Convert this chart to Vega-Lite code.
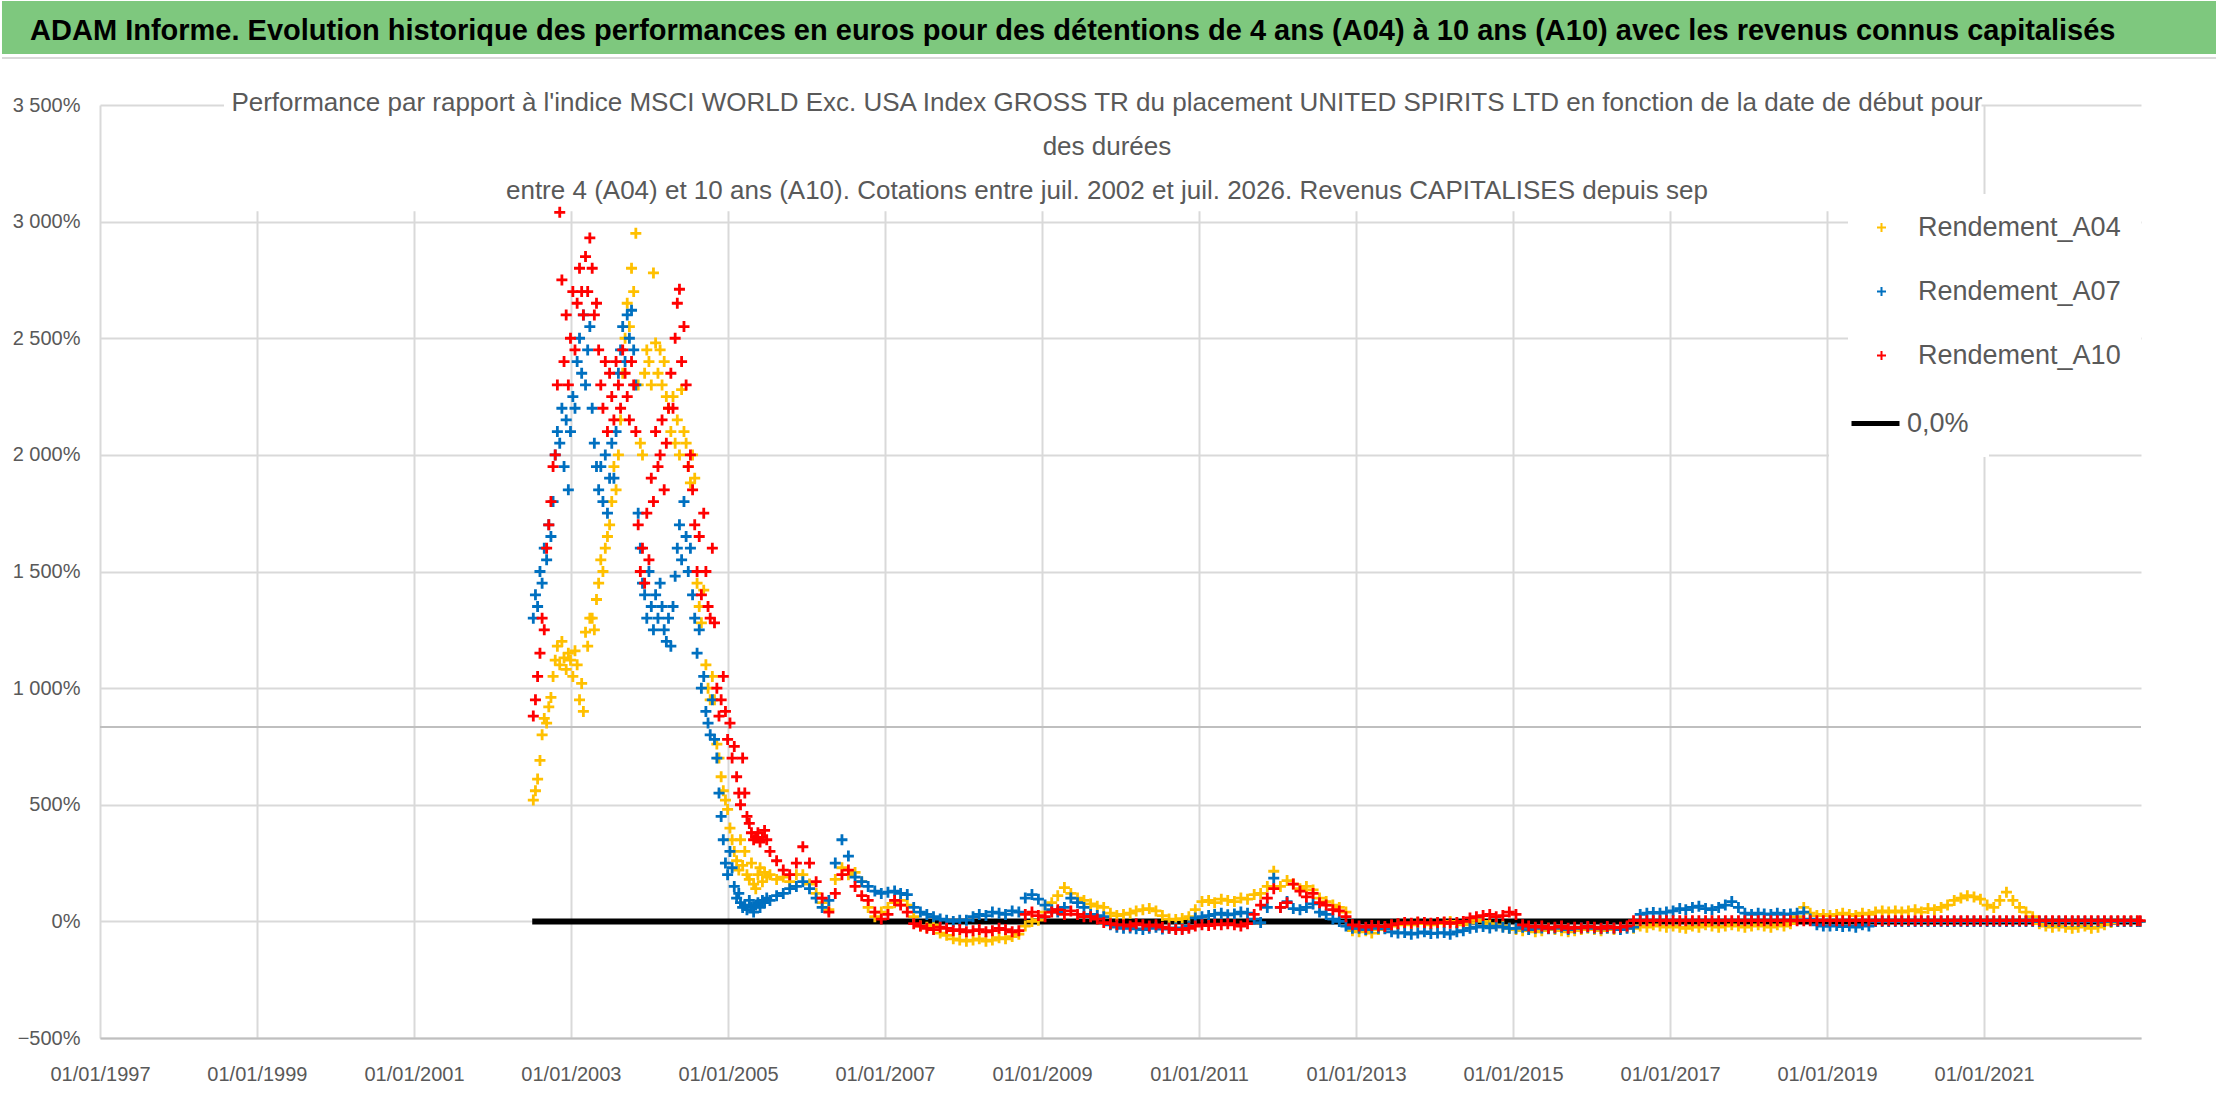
{
  "$schema": "https://vega.github.io/schema/vega-lite/v6.json",
  "background": "white",
  "padding": 0,
  "width": 2041,
  "height": 933,
  "config": {"view": {"stroke": null}, "font": "Liberation Sans"},
  "datasets": {
    "perf": [
      {"d":"2002-07-10","A04":520,"A07":1300,"A10":880},
      {"d":"2002-07-20","A04":560,"A07":1400,"A10":950},
      {"d":"2002-07-30","A04":610,"A07":1350,"A10":1050},
      {"d":"2002-08-10","A04":690,"A07":1500,"A10":1150},
      {"d":"2002-08-20","A04":800,"A07":1450,"A10":1300},
      {"d":"2002-08-30","A04":870,"A07":1600,"A10":1250},
      {"d":"2002-09-10","A04":850,"A07":1550,"A10":1600},
      {"d":"2002-09-20","A04":920,"A07":1700,"A10":1700},
      {"d":"2002-09-30","A04":960,"A07":1650,"A10":1800},
      {"d":"2002-10-10","A04":1050,"A07":1800,"A10":1950},
      {"d":"2002-10-20","A04":1120,"A07":2000,"A10":2000},
      {"d":"2002-10-30","A04":1180,"A07":2100,"A10":2300},
      {"d":"2002-11-10","A04":1100,"A07":2050,"A10":3040},
      {"d":"2002-11-20","A04":1200,"A07":2200,"A10":2750},
      {"d":"2002-11-30","A04":1130,"A07":1950,"A10":2400},
      {"d":"2002-12-10","A04":1080,"A07":2150,"A10":2600},
      {"d":"2002-12-20","A04":1150,"A07":1850,"A10":2300},
      {"d":"2002-12-30","A04":1120,"A07":2100,"A10":2500},
      {"d":"2003-01-10","A04":1050,"A07":2250,"A10":2700},
      {"d":"2003-01-20","A04":1160,"A07":2200,"A10":2450},
      {"d":"2003-01-30","A04":1100,"A07":2400,"A10":2650},
      {"d":"2003-02-10","A04":950,"A07":2500,"A10":2800},
      {"d":"2003-02-20","A04":1020,"A07":2350,"A10":2700},
      {"d":"2003-02-28","A04":900,"A07":2600,"A10":2600},
      {"d":"2003-03-10","A04":1240,"A07":2300,"A10":2850},
      {"d":"2003-03-20","A04":1180,"A07":2450,"A10":2700},
      {"d":"2003-03-30","A04":1300,"A07":2550,"A10":2930},
      {"d":"2003-04-10","A04":1300,"A07":2200,"A10":2800},
      {"d":"2003-04-20","A04":1250,"A07":2050,"A10":2600},
      {"d":"2003-04-30","A04":1380,"A07":1950,"A10":2650},
      {"d":"2003-05-10","A04":1450,"A07":1850,"A10":2450},
      {"d":"2003-05-20","A04":1550,"A07":1950,"A10":2300},
      {"d":"2003-05-30","A04":1500,"A07":1800,"A10":2200},
      {"d":"2003-06-10","A04":1600,"A07":2000,"A10":2400},
      {"d":"2003-06-20","A04":1650,"A07":1750,"A10":2100},
      {"d":"2003-06-30","A04":1700,"A07":1900,"A10":2350},
      {"d":"2003-07-10","A04":1800,"A07":2050,"A10":2250},
      {"d":"2003-07-20","A04":1950,"A07":1900,"A10":2150},
      {"d":"2003-07-30","A04":1850,"A07":2100,"A10":2400},
      {"d":"2003-08-10","A04":2000,"A07":2350,"A10":2300},
      {"d":"2003-08-20","A04":2150,"A07":2450,"A10":2200},
      {"d":"2003-08-30","A04":2350,"A07":2550,"A10":2450},
      {"d":"2003-09-10","A04":2500,"A07":2400,"A10":2350},
      {"d":"2003-09-20","A04":2650,"A07":2600,"A10":2250},
      {"d":"2003-09-30","A04":2550,"A07":2500,"A10":2150},
      {"d":"2003-10-10","A04":2800,"A07":2620,"A10":2400},
      {"d":"2003-10-20","A04":2700,"A07":2450,"A10":2300},
      {"d":"2003-10-30","A04":2950,"A07":2300,"A10":2100},
      {"d":"2003-11-10","A04":2300,"A07":1750,"A10":1700},
      {"d":"2003-11-20","A04":2050,"A07":1600,"A10":1500},
      {"d":"2003-11-30","A04":2000,"A07":1450,"A10":1600},
      {"d":"2003-12-10","A04":2350,"A07":1400,"A10":1450},
      {"d":"2003-12-20","A04":2450,"A07":1300,"A10":1750},
      {"d":"2003-12-30","A04":2400,"A07":1500,"A10":1550},
      {"d":"2004-01-10","A04":2300,"A07":1350,"A10":1900},
      {"d":"2004-01-20","A04":2780,"A07":1250,"A10":1800},
      {"d":"2004-01-30","A04":2480,"A07":1400,"A10":2100},
      {"d":"2004-02-10","A04":2350,"A07":1300,"A10":1950},
      {"d":"2004-02-20","A04":2450,"A07":1450,"A10":2000},
      {"d":"2004-02-29","A04":2300,"A07":1350,"A10":2150},
      {"d":"2004-03-10","A04":2400,"A07":1250,"A10":1850},
      {"d":"2004-03-20","A04":2250,"A07":1200,"A10":2050},
      {"d":"2004-03-30","A04":2200,"A07":1300,"A10":2200},
      {"d":"2004-04-10","A04":2100,"A07":1180,"A10":2350},
      {"d":"2004-04-20","A04":2250,"A07":1350,"A10":2200},
      {"d":"2004-04-30","A04":2050,"A07":1480,"A10":2500},
      {"d":"2004-05-10","A04":2150,"A07":1600,"A10":2650},
      {"d":"2004-05-20","A04":2000,"A07":1700,"A10":2710},
      {"d":"2004-05-30","A04":2280,"A07":1550,"A10":2400},
      {"d":"2004-06-10","A04":2100,"A07":1800,"A10":2550},
      {"d":"2004-06-20","A04":2050,"A07":1650,"A10":2300},
      {"d":"2004-06-30","A04":1950,"A07":1500,"A10":1950},
      {"d":"2004-07-10","A04":1880,"A07":1600,"A10":2000},
      {"d":"2004-07-20","A04":2000,"A07":1400,"A10":1850},
      {"d":"2004-07-30","A04":1900,"A07":1300,"A10":1700},
      {"d":"2004-08-10","A04":1450,"A07":1150,"A10":1500},
      {"d":"2004-08-20","A04":1350,"A07":1250,"A10":1650},
      {"d":"2004-08-30","A04":1280,"A07":1000,"A10":1400},
      {"d":"2004-09-10","A04":1420,"A07":1050,"A10":1750},
      {"d":"2004-09-20","A04":1100,"A07":900,"A10":1500},
      {"d":"2004-09-30","A04":1000,"A07":850,"A10":1350},
      {"d":"2004-10-10","A04":950,"A07":800,"A10":1300},
      {"d":"2004-10-20","A04":1050,"A07":950,"A10":1600},
      {"d":"2004-10-30","A04":950,"A07":780,"A10":1280},
      {"d":"2004-11-10","A04":760,"A07":700,"A10":1000},
      {"d":"2004-11-20","A04":700,"A07":550,"A10":880},
      {"d":"2004-11-30","A04":620,"A07":450,"A10":950},
      {"d":"2004-12-10","A04":560,"A07":350,"A10":1050},
      {"d":"2004-12-20","A04":520,"A07":250,"A10":900},
      {"d":"2004-12-30","A04":480,"A07":200,"A10":780},
      {"d":"2005-01-10","A04":400,"A07":300,"A10":850},
      {"d":"2005-01-20","A04":350,"A07":230,"A10":700},
      {"d":"2005-01-30","A04":300,"A07":150,"A10":750},
      {"d":"2005-02-10","A04":260,"A07":100,"A10":620},
      {"d":"2005-02-20","A04":220,"A07":120,"A10":550},
      {"d":"2005-02-28","A04":350,"A07":80,"A10":500},
      {"d":"2005-03-10","A04":240,"A07":60,"A10":700},
      {"d":"2005-03-20","A04":300,"A07":70,"A10":550},
      {"d":"2005-03-30","A04":200,"A07":50,"A10":450},
      {"d":"2005-04-10","A04":180,"A07":90,"A10":420},
      {"d":"2005-04-20","A04":250,"A07":60,"A10":380},
      {"d":"2005-04-30","A04":160,"A07":40,"A10":350},
      {"d":"2005-05-10","A04":140,"A07":70,"A10":360},
      {"d":"2005-05-20","A04":200,"A07":80,"A10":380},
      {"d":"2005-05-30","A04":230,"A07":60,"A10":340},
      {"d":"2005-06-10","A04":170,"A07":90,"A10":360},
      {"d":"2005-06-20","A04":210,"A07":80,"A10":390},
      {"d":"2005-06-30","A04":190,"A07":100,"A10":350},
      {"d":"2005-07-15","A04":200,"A07":90,"A10":300},
      {"d":"2005-08-15","A04":180,"A07":110,"A10":260},
      {"d":"2005-09-15","A04":190,"A07":120,"A10":220},
      {"d":"2005-10-15","A04":170,"A07":140,"A10":200},
      {"d":"2005-11-15","A04":200,"A07":150,"A10":250},
      {"d":"2005-12-15","A04":200,"A07":170,"A10":320},
      {"d":"2006-01-15","A04":160,"A07":140,"A10":250},
      {"d":"2006-02-15","A04":120,"A07":100,"A10":170},
      {"d":"2006-03-15","A04":80,"A07":60,"A10":100},
      {"d":"2006-04-15","A04":50,"A07":90,"A10":40},
      {"d":"2006-05-15","A04":180,"A07":250,"A10":120},
      {"d":"2006-06-15","A04":230,"A07":350,"A10":200},
      {"d":"2006-07-15","A04":200,"A07":280,"A10":220},
      {"d":"2006-08-15","A04":210,"A07":190,"A10":150},
      {"d":"2006-09-15","A04":170,"A07":170,"A10":110},
      {"d":"2006-10-15","A04":60,"A07":150,"A10":90},
      {"d":"2006-11-15","A04":20,"A07":130,"A10":40},
      {"d":"2006-12-15","A04":40,"A07":120,"A10":10},
      {"d":"2007-01-15","A04":60,"A07":125,"A10":30},
      {"d":"2007-02-15","A04":80,"A07":130,"A10":90},
      {"d":"2007-03-15","A04":90,"A07":120,"A10":70},
      {"d":"2007-04-15","A04":70,"A07":115,"A10":40},
      {"d":"2007-05-15","A04":20,"A07":60,"A10":-10},
      {"d":"2007-06-15","A04":-20,"A07":40,"A10":-20},
      {"d":"2007-07-15","A04":-25,"A07":30,"A10":-30},
      {"d":"2007-08-15","A04":-15,"A07":20,"A10":-35},
      {"d":"2007-09-15","A04":-50,"A07":10,"A10":-25},
      {"d":"2007-10-15","A04":-60,"A07":5,"A10":-30},
      {"d":"2007-11-15","A04":-75,"A07":0,"A10":-40},
      {"d":"2007-12-15","A04":-80,"A07":5,"A10":-35},
      {"d":"2008-01-15","A04":-85,"A07":5,"A10":-45},
      {"d":"2008-02-15","A04":-80,"A07":20,"A10":-40},
      {"d":"2008-03-15","A04":-75,"A07":30,"A10":-35},
      {"d":"2008-04-15","A04":-85,"A07":25,"A10":-45},
      {"d":"2008-05-15","A04":-80,"A07":40,"A10":-40},
      {"d":"2008-06-15","A04":-70,"A07":35,"A10":-30},
      {"d":"2008-07-15","A04":-75,"A07":30,"A10":-35},
      {"d":"2008-08-15","A04":-65,"A07":45,"A10":-45},
      {"d":"2008-09-15","A04":-55,"A07":40,"A10":-40},
      {"d":"2008-10-15","A04":-20,"A07":100,"A10":30},
      {"d":"2008-11-15","A04":0,"A07":115,"A10":40},
      {"d":"2008-12-15","A04":5,"A07":95,"A10":25},
      {"d":"2009-01-15","A04":40,"A07":70,"A10":20},
      {"d":"2009-02-15","A04":80,"A07":50,"A10":40},
      {"d":"2009-03-15","A04":110,"A07":40,"A10":50},
      {"d":"2009-04-15","A04":145,"A07":60,"A10":30},
      {"d":"2009-05-15","A04":120,"A07":100,"A10":45},
      {"d":"2009-06-15","A04":100,"A07":80,"A10":30},
      {"d":"2009-07-15","A04":90,"A07":60,"A10":20},
      {"d":"2009-08-15","A04":75,"A07":30,"A10":20},
      {"d":"2009-09-15","A04":65,"A07":25,"A10":10},
      {"d":"2009-10-15","A04":60,"A07":20,"A10":-5},
      {"d":"2009-11-15","A04":35,"A07":-15,"A10":-10},
      {"d":"2009-12-15","A04":25,"A07":-25,"A10":-15},
      {"d":"2010-01-15","A04":30,"A07":-30,"A10":-15},
      {"d":"2010-02-15","A04":35,"A07":-28,"A10":-20},
      {"d":"2010-03-15","A04":45,"A07":-32,"A10":-10},
      {"d":"2010-04-15","A04":50,"A07":-35,"A10":-15},
      {"d":"2010-05-15","A04":55,"A07":-30,"A10":-20},
      {"d":"2010-06-15","A04":45,"A07":-25,"A10":-15},
      {"d":"2010-07-15","A04":25,"A07":-33,"A10":-25},
      {"d":"2010-08-15","A04":10,"A07":-30,"A10":-30},
      {"d":"2010-09-15","A04":8,"A07":-28,"A10":-35},
      {"d":"2010-10-15","A04":12,"A07":-32,"A10":-35},
      {"d":"2010-11-15","A04":20,"A07":-20,"A10":-30},
      {"d":"2010-12-15","A04":50,"A07":15,"A10":-20},
      {"d":"2011-01-15","A04":85,"A07":20,"A10":-15},
      {"d":"2011-02-15","A04":90,"A07":25,"A10":-18},
      {"d":"2011-03-15","A04":80,"A07":30,"A10":-12},
      {"d":"2011-04-15","A04":95,"A07":35,"A10":-15},
      {"d":"2011-05-15","A04":90,"A07":28,"A10":-10},
      {"d":"2011-06-15","A04":85,"A07":32,"A10":-15},
      {"d":"2011-07-15","A04":100,"A07":40,"A10":-20},
      {"d":"2011-08-15","A04":95,"A07":35,"A10":-10},
      {"d":"2011-09-15","A04":115,"A07":10,"A10":30},
      {"d":"2011-10-15","A04":120,"A07":-5,"A10":70},
      {"d":"2011-11-15","A04":150,"A07":60,"A10":100},
      {"d":"2011-12-15","A04":215,"A07":185,"A10":140},
      {"d":"2012-01-15","A04":150,"A07":60,"A10":60},
      {"d":"2012-02-15","A04":175,"A07":85,"A10":80},
      {"d":"2012-03-15","A04":160,"A07":55,"A10":160},
      {"d":"2012-04-15","A04":140,"A07":50,"A10":130},
      {"d":"2012-05-15","A04":150,"A07":60,"A10":105},
      {"d":"2012-06-15","A04":135,"A07":75,"A10":120},
      {"d":"2012-07-15","A04":100,"A07":40,"A10":80},
      {"d":"2012-08-15","A04":85,"A07":30,"A10":70},
      {"d":"2012-09-15","A04":70,"A07":10,"A10":50},
      {"d":"2012-10-15","A04":60,"A07":0,"A10":45},
      {"d":"2012-11-15","A04":40,"A07":-20,"A10":20},
      {"d":"2012-12-15","A04":-40,"A07":-30,"A10":-15},
      {"d":"2013-01-15","A04":-45,"A07":-30,"A10":-20},
      {"d":"2013-02-15","A04":-40,"A07":-35,"A10":-25},
      {"d":"2013-03-15","A04":-50,"A07":-28,"A10":-18},
      {"d":"2013-04-15","A04":-35,"A07":-30,"A10":-20},
      {"d":"2013-05-15","A04":-30,"A07":-32,"A10":-22},
      {"d":"2013-06-15","A04":-20,"A07":-45,"A10":-15},
      {"d":"2013-07-15","A04":-15,"A07":-50,"A10":-10},
      {"d":"2013-08-15","A04":-10,"A07":-48,"A10":-5},
      {"d":"2013-09-15","A04":-15,"A07":-55,"A10":-8},
      {"d":"2013-10-15","A04":-5,"A07":-50,"A10":-3},
      {"d":"2013-11-15","A04":-10,"A07":-45,"A10":-5},
      {"d":"2013-12-15","A04":-15,"A07":-52,"A10":-8},
      {"d":"2014-01-15","A04":-10,"A07":-50,"A10":-5},
      {"d":"2014-02-15","A04":-5,"A07":-48,"A10":-3},
      {"d":"2014-03-15","A04":0,"A07":-55,"A10":-8},
      {"d":"2014-04-15","A04":-10,"A07":-45,"A10":-5},
      {"d":"2014-05-15","A04":-15,"A07":-40,"A10":0},
      {"d":"2014-06-15","A04":-5,"A07":-30,"A10":15},
      {"d":"2014-07-15","A04":5,"A07":-25,"A10":20},
      {"d":"2014-08-15","A04":0,"A07":-22,"A10":25},
      {"d":"2014-09-15","A04":-10,"A07":-28,"A10":30},
      {"d":"2014-10-15","A04":-15,"A07":-20,"A10":20},
      {"d":"2014-11-15","A04":-20,"A07":-25,"A10":25},
      {"d":"2014-12-15","A04":-30,"A07":-30,"A10":40},
      {"d":"2015-01-15","A04":-35,"A07":-30,"A10":30},
      {"d":"2015-02-15","A04":-40,"A07":-25,"A10":-15},
      {"d":"2015-03-15","A04":-35,"A07":-35,"A10":-20},
      {"d":"2015-04-15","A04":-45,"A07":-30,"A10":-25},
      {"d":"2015-05-15","A04":-40,"A07":-28,"A10":-20},
      {"d":"2015-06-15","A04":-30,"A07":-32,"A10":-30},
      {"d":"2015-07-15","A04":-35,"A07":-30,"A10":-25},
      {"d":"2015-08-15","A04":-40,"A07":-25,"A10":-20},
      {"d":"2015-09-15","A04":-45,"A07":-35,"A10":-30},
      {"d":"2015-10-15","A04":-40,"A07":-30,"A10":-25},
      {"d":"2015-11-15","A04":-35,"A07":-28,"A10":-28},
      {"d":"2015-12-15","A04":-30,"A07":-25,"A10":-22},
      {"d":"2016-01-15","A04":-35,"A07":-30,"A10":-25},
      {"d":"2016-02-15","A04":-40,"A07":-32,"A10":-30},
      {"d":"2016-03-15","A04":-30,"A07":-28,"A10":-22},
      {"d":"2016-04-15","A04":-35,"A07":-30,"A10":-28},
      {"d":"2016-05-15","A04":-30,"A07":-35,"A10":-25},
      {"d":"2016-06-15","A04":-25,"A07":-30,"A10":-20},
      {"d":"2016-07-15","A04":-30,"A07":-25,"A10":3},
      {"d":"2016-08-15","A04":-20,"A07":30,"A10":3},
      {"d":"2016-09-15","A04":-25,"A07":35,"A10":3},
      {"d":"2016-10-15","A04":-15,"A07":38,"A10":3},
      {"d":"2016-11-15","A04":-20,"A07":35,"A10":3},
      {"d":"2016-12-15","A04":-25,"A07":40,"A10":3},
      {"d":"2017-01-15","A04":-20,"A07":45,"A10":3},
      {"d":"2017-02-15","A04":-25,"A07":55,"A10":3},
      {"d":"2017-03-15","A04":-30,"A07":50,"A10":3},
      {"d":"2017-04-15","A04":-20,"A07":60,"A10":3},
      {"d":"2017-05-15","A04":-25,"A07":65,"A10":3},
      {"d":"2017-06-15","A04":-15,"A07":55,"A10":3},
      {"d":"2017-07-15","A04":-20,"A07":50,"A10":3},
      {"d":"2017-08-15","A04":-25,"A07":60,"A10":3},
      {"d":"2017-09-15","A04":-20,"A07":70,"A10":3},
      {"d":"2017-10-15","A04":-15,"A07":85,"A10":3},
      {"d":"2017-11-15","A04":-20,"A07":60,"A10":3},
      {"d":"2017-12-15","A04":-25,"A07":35,"A10":3},
      {"d":"2018-01-15","A04":-20,"A07":30,"A10":3},
      {"d":"2018-02-15","A04":-15,"A07":35,"A10":3},
      {"d":"2018-03-15","A04":-20,"A07":32,"A10":3},
      {"d":"2018-04-15","A04":-25,"A07":30,"A10":3},
      {"d":"2018-05-15","A04":-15,"A07":35,"A10":3},
      {"d":"2018-06-15","A04":-20,"A07":30,"A10":3},
      {"d":"2018-07-15","A04":-10,"A07":32,"A10":3},
      {"d":"2018-08-15","A04":20,"A07":35,"A10":3},
      {"d":"2018-09-15","A04":60,"A07":40,"A10":3},
      {"d":"2018-10-15","A04":35,"A07":10,"A10":3},
      {"d":"2018-11-15","A04":25,"A07":-15,"A10":3},
      {"d":"2018-12-15","A04":30,"A07":-20,"A10":3},
      {"d":"2019-01-15","A04":25,"A07":-20,"A10":3},
      {"d":"2019-02-15","A04":30,"A07":-18,"A10":3},
      {"d":"2019-03-15","A04":35,"A07":-22,"A10":3},
      {"d":"2019-04-15","A04":30,"A07":-20,"A10":3},
      {"d":"2019-05-15","A04":25,"A07":-25,"A10":3},
      {"d":"2019-06-15","A04":35,"A07":-15,"A10":3},
      {"d":"2019-07-15","A04":30,"A07":-20,"A10":3},
      {"d":"2019-08-15","A04":40,"A07":0,"A10":3},
      {"d":"2019-09-15","A04":45,"A07":0,"A10":3},
      {"d":"2019-10-15","A04":40,"A07":0,"A10":3},
      {"d":"2019-11-15","A04":45,"A07":0,"A10":3},
      {"d":"2019-12-15","A04":40,"A07":0,"A10":3},
      {"d":"2020-01-15","A04":45,"A07":0,"A10":3},
      {"d":"2020-02-15","A04":50,"A07":0,"A10":3},
      {"d":"2020-03-15","A04":40,"A07":0,"A10":3},
      {"d":"2020-04-15","A04":55,"A07":0,"A10":3},
      {"d":"2020-05-15","A04":50,"A07":0,"A10":3},
      {"d":"2020-06-15","A04":60,"A07":0,"A10":3},
      {"d":"2020-07-15","A04":70,"A07":0,"A10":3},
      {"d":"2020-08-15","A04":90,"A07":0,"A10":3},
      {"d":"2020-09-15","A04":100,"A07":0,"A10":3},
      {"d":"2020-10-15","A04":110,"A07":0,"A10":3},
      {"d":"2020-11-15","A04":105,"A07":0,"A10":3},
      {"d":"2020-12-15","A04":95,"A07":0,"A10":3},
      {"d":"2021-01-15","A04":70,"A07":0,"A10":3},
      {"d":"2021-02-15","A04":60,"A07":0,"A10":3},
      {"d":"2021-03-15","A04":90,"A07":0,"A10":3},
      {"d":"2021-04-15","A04":125,"A07":0,"A10":3},
      {"d":"2021-05-15","A04":90,"A07":0,"A10":3},
      {"d":"2021-06-15","A04":60,"A07":0,"A10":3},
      {"d":"2021-07-15","A04":40,"A07":0,"A10":3},
      {"d":"2021-08-15","A04":20,"A07":0,"A10":3},
      {"d":"2021-09-15","A04":-10,"A07":0,"A10":3},
      {"d":"2021-10-15","A04":-20,"A07":0,"A10":3},
      {"d":"2021-11-15","A04":-25,"A07":0,"A10":3},
      {"d":"2021-12-15","A04":-20,"A07":0,"A10":3},
      {"d":"2022-01-15","A04":-25,"A07":0,"A10":3},
      {"d":"2022-02-15","A04":-30,"A07":0,"A10":3},
      {"d":"2022-03-15","A04":-25,"A07":0,"A10":3},
      {"d":"2022-04-15","A04":-20,"A07":0,"A10":3},
      {"d":"2022-05-15","A04":-30,"A07":0,"A10":3},
      {"d":"2022-06-15","A04":-25,"A07":0,"A10":3},
      {"d":"2022-07-15","A04":-15,"A07":0,"A10":3},
      {"d":"2022-08-15","A04":-5,"A07":0,"A10":3},
      {"d":"2022-09-15","A04":0,"A07":0,"A10":3},
      {"d":"2022-10-15","A04":0,"A07":0,"A10":3},
      {"d":"2022-11-15","A04":0,"A07":0,"A10":3},
      {"d":"2022-12-15","A04":0,"A07":0,"A10":3},
      {"d":"2022-12-28","A04":0,"A07":0,"A10":3}
    ]
  },
  "data": {"name": "perf"},
  "layer": [
    {
      "data": {"values": [{}]},
      "mark": {"type": "rect", "color": "#7ec87e"},
      "encoding": {
        "x": {"datum": {"year": 1995, "month": 10, "date": 3}, "type": "temporal"},
        "x2": {"datum": {"year": 2023, "month": 12, "date": 25}},
        "y": {"datum": 3946, "type": "quantitative"},
        "y2": {"datum": 3719}
      }
    },
    {
      "data": {"values": [{}]},
      "mark": {"type": "rule", "color": "#d9d9d9", "strokeWidth": 2},
      "encoding": {
        "x": {"datum": {"year": 1995, "month": 10, "date": 3}, "type": "temporal"},
        "x2": {"datum": {"year": 2023, "month": 12, "date": 25}},
        "y": {"datum": 3701, "type": "quantitative"}
      }
    },
    {
      "data": {"values": [{}]},
      "mark": {"type": "text", "font": "Liberation Sans", "fontWeight": "bold", "fontSize": 29, "color": "#000000", "align": "center", "baseline": "middle",
        "text": "ADAM Informe. Evolution historique des performances en euros pour des détentions de 4 ans (A04) à 10 ans (A10) avec les revenus connus capitalisés"},
      "encoding": {
        "x": {"datum": {"year": 2009, "month": 5, "date": 24}, "type": "temporal"},
        "y": {"datum": 3817, "type": "quantitative"}
      }
    },
    {
      "data": {"values": [{}]},
      "mark": {"type": "rect", "color": "#ffffff"},
      "encoding": {
        "x": {"datum": {"year": 1998, "month": 8, "date": 1}, "type": "temporal"},
        "x2": {"datum": {"year": 2020, "month": 12, "date": 20}},
        "y": {"datum": 3045, "type": "quantitative"},
        "y2": {"datum": 3530}
      }
    },
    {
      "data": {"values": [{}]},
      "mark": {"type": "text", "font": "Liberation Sans", "fontSize": 26, "color": "#595959", "lineHeight": 44, "align": "center", "baseline": "middle",
        "text": ["Performance par rapport à l'indice MSCI WORLD Exc. USA Index GROSS TR  du placement UNITED SPIRITS LTD en fonction de la date de début pour", "des durées", "entre 4 (A04) et 10 ans (A10). Cotations entre juil. 2002 et juil. 2026. Revenus CAPITALISES depuis sep"]},
      "encoding": {
        "x": {"datum": {"year": 2009, "month": 10, "date": 30}, "type": "temporal"},
        "y": {"datum": 3509, "type": "quantitative"}
      }
    },
    {
      "data": {"values": [{}]},
      "mark": {"type": "rule", "color": "#bfbfbf", "strokeWidth": 2},
      "encoding": {"y": {"datum": 833, "type": "quantitative"}}
    },
    {
      "data": {"values": [{}]},
      "mark": {"type": "rule", "strokeWidth": 6, "color": "#000000"},
      "encoding": {
        "x": {"datum": {"year": 2002, "month": 7, "date": 5}, "type": "temporal"},
        "x2": {"datum": {"year": 2022, "month": 12, "date": 31}},
        "y": {"datum": 0, "type": "quantitative"},
        "strokeDash": {
          "datum": "0,0%",
          "scale": {"domain": ["0,0%"], "range": [[1, 0]]},
          "legend": {
            "title": null,
            "orient": "none",
            "legendX": 1729,
            "legendY": 272,
            "fillColor": "#ffffff",
            "padding": 20,
            "labelFont": "Liberation Sans",
            "labelFontSize": 27,
            "labelColor": "#595959",
            "labelOffset": 5,
            "symbolType": "stroke",
            "symbolSize": 2304,
            "symbolStrokeColor": "#000000",
            "symbolStrokeWidth": 5
          }
        }
      }
    },
    {
      "transform": [{"fold": ["A04", "A07", "A10"], "as": ["serie", "v"]}],
      "mark": {"type": "point", "shape": "M-1,0H1M0,-1V1", "filled": false, "size": 121, "strokeWidth": 2.8, "opacity": 1},
      "encoding": {
        "x": {
          "field": "d", "type": "temporal",
          "scale": {"domain": [{"year": 1997, "month": 1, "date": 1}, {"year": 2023, "month": 1, "date": 1}]},
          "axis": {
            "title": null,
            "values": [
              {"year": 1997, "month": 1, "date": 1}, {"year": 1999, "month": 1, "date": 1}, {"year": 2001, "month": 1, "date": 1},
              {"year": 2003, "month": 1, "date": 1}, {"year": 2005, "month": 1, "date": 1}, {"year": 2007, "month": 1, "date": 1},
              {"year": 2009, "month": 1, "date": 1}, {"year": 2011, "month": 1, "date": 1}, {"year": 2013, "month": 1, "date": 1},
              {"year": 2015, "month": 1, "date": 1}, {"year": 2017, "month": 1, "date": 1}, {"year": 2019, "month": 1, "date": 1},
              {"year": 2021, "month": 1, "date": 1}
            ],
            "format": "%d/%m/%Y",
            "labelFlush": false,
            "labelOverlap": false,
            "labelFont": "Liberation Sans",
            "labelFontSize": 20,
            "labelColor": "#595959",
            "labelPadding": 26,
            "ticks": false,
            "domain": true,
            "domainColor": "#bfbfbf",
            "domainWidth": 2,
            "grid": true,
            "gridColor": "#d9d9d9",
            "gridWidth": 2
          }
        },
        "y": {
          "field": "v", "type": "quantitative",
          "scale": {"domain": [-500, 3500], "nice": false, "zero": false},
          "axis": {
            "title": null,
            "values": [-500, 0, 500, 1000, 1500, 2000, 2500, 3000, 3500],
            "labelExpr": "replace(format(datum.value, ',d'), ',', ' ') + '%'",
            "labelFont": "Liberation Sans",
            "labelFontSize": 20,
            "labelColor": "#595959",
            "labelPadding": 20,
            "ticks": false,
            "domain": false,
            "grid": true,
            "gridColor": "#d9d9d9",
            "gridWidth": 2
          }
        },
        "color": {
          "field": "serie", "type": "nominal",
          "scale": {"domain": ["A04", "A07", "A10"], "range": ["#ffc000", "#0070c0", "#ff0000"]},
          "legend": {
            "title": null,
            "orient": "none",
            "legendX": 1748,
            "legendY": 89,
            "fillColor": "#ffffff",
            "padding": 20,
            "labelFont": "Liberation Sans",
            "labelFontSize": 27,
            "labelColor": "#595959",
            "labelOffset": 23,
            "labelLimit": 400,
            "rowPadding": 36,
            "symbolType": "M-1,0H1M0,-1V1",
            "symbolSize": 81,
            "symbolStrokeWidth": 2,
            "labelExpr": "'Rendement_' + datum.label"
          }
        },
        "order": {"field": "serie", "type": "nominal"}
      }
    }
  ]
}
